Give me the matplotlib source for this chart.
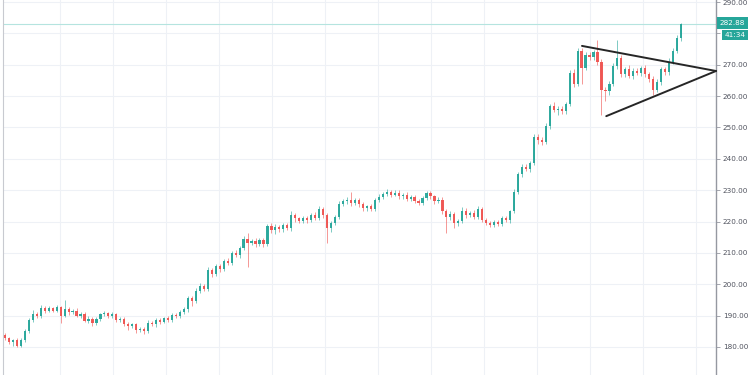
import numpy as np
import matplotlib.pyplot as plt

# close prices, one per candle (open = previous close)
first_open = 183.8
closes = [
    182.8, 181.6, 182.1, 180.4, 182.3, 185.0, 188.5,
    190.5, 189.8, 192.5, 191.6, 192.3, 191.6, 192.6, 190.0,
    192.2, 191.0, 191.6, 190.0, 190.6, 188.4, 189.0, 187.6, 188.8, 190.4,
    190.8, 189.8, 190.4, 188.6, 189.0, 187.4, 186.8, 187.2, 185.4, 185.8,
    185.2, 187.8, 187.2, 188.6, 188.0, 189.2, 188.6, 190.2, 189.8, 191.2,
    192.0, 195.5, 194.6, 198.0, 199.5, 198.6, 204.5, 203.2, 205.8, 204.8,
    207.5, 206.8, 210.0, 209.2, 211.5, 214.5, 213.0, 213.8, 212.8, 214.0,
    212.8, 218.5, 217.2, 218.4, 217.5, 218.8, 217.8, 222.0, 221.0, 220.2,
    221.2, 220.4, 222.0, 221.2, 224.0, 222.0, 218.0, 219.5, 221.5, 225.5,
    226.5, 227.0, 225.8, 226.8, 225.5, 224.2, 224.8, 224.0, 226.8, 227.8,
    228.8, 229.5, 228.6, 229.2, 228.0, 228.6, 227.2, 227.8, 226.5, 226.0,
    227.5, 229.0, 228.0, 226.5, 227.0, 223.5, 221.5, 222.3, 219.5, 220.2,
    223.5, 222.0, 222.8, 221.5, 224.0, 220.5, 219.5, 219.0, 219.8, 219.2,
    221.0, 220.4, 223.2, 229.5, 235.0, 237.5, 236.6, 238.6, 247.0, 246.0,
    245.5, 250.5, 256.8, 255.5, 256.0, 255.2, 257.5, 267.5, 264.0, 274.5,
    269.0, 273.0, 272.5, 274.0, 271.0, 262.0, 261.5, 264.0, 269.5, 272.0,
    267.0, 268.5, 266.5, 268.0, 267.5, 268.8, 267.0, 265.5, 262.0, 264.5,
    268.5, 267.6, 271.0, 274.5, 278.5, 282.88,
]
# wick lengths above / below the candle body
wick_up = [
    0.5, 0.4, 0.3, 0.6, 0.5, 0.8, 0.6,
    1.2, 0.6, 0.8, 0.5, 0.7, 0.4, 0.9, 0.5,
    2.8, 0.6, 0.5, 0.7, 0.4, 0.5, 0.8, 0.4, 0.6, 0.5,
    0.6, 0.5, 0.7, 0.5, 0.6, 0.4, 0.5, 0.6, 0.5, 0.7,
    0.6, 0.8, 0.5, 0.6, 0.7, 0.5, 0.6, 0.5, 0.7, 0.6,
    0.8, 0.6, 0.9, 0.7, 0.8, 0.6, 1.0, 0.7, 0.8, 0.6,
    0.6, 0.8, 0.7, 0.9, 0.6, 0.8, 2.0, 0.7, 0.8, 0.6,
    0.6, 0.8, 1.0, 0.7, 0.6, 0.8, 0.7, 1.2, 0.8, 0.6,
    0.7, 0.6, 0.8, 0.9, 0.8, 0.7, 0.6, 0.8, 0.7, 0.9,
    0.8, 0.7, 2.4, 0.6, 0.8, 0.7, 0.6, 0.8, 0.7, 0.9,
    0.7, 0.8, 0.6, 0.7, 0.8, 0.6, 0.7, 0.6, 0.8, 0.7,
    0.6, 0.8, 0.7, 0.6, 0.8, 0.7, 0.6, 0.9, 0.7, 0.6,
    1.0, 0.8, 0.7, 0.9, 1.0, 0.6, 0.7, 0.6, 0.8, 0.7,
    0.7, 0.8, 0.6, 0.8, 0.9, 0.8, 1.0, 0.7, 0.8, 0.9,
    0.8, 0.9, 0.7, 1.2, 0.8, 0.9, 0.7, 0.8, 1.0, 0.8,
    0.8, 0.9, 1.0, 0.8, 4.0, 0.8, 1.0, 0.8, 0.9, 6.0,
    1.2, 0.8, 1.5, 0.9, 1.0, 0.8, 1.0, 0.8, 0.9, 0.8,
    0.8, 0.9, 1.0, 0.8, 0.9, 0.5,
]
wick_dn = [
    0.6, 0.5, 1.2, 0.5, 0.4, 0.6, 0.5,
    0.5, 0.6, 0.5, 0.8, 0.5, 0.6, 0.5, 2.5,
    0.6, 0.8, 0.5, 0.6, 0.7, 0.5, 0.6, 0.8, 0.5, 0.6,
    0.5, 0.6, 0.7, 0.5, 0.6, 0.8, 1.4, 0.6, 0.8, 0.5,
    1.0, 0.6, 0.5, 0.8, 0.6, 0.5, 0.7, 0.6, 0.5, 0.6,
    0.6, 0.8, 1.5, 0.6, 0.7, 0.8, 0.6, 0.9, 0.7, 0.8,
    0.7, 0.6, 0.8, 0.6, 0.9, 0.7, 7.5, 0.6, 0.8, 0.7,
    0.8, 0.6, 0.9, 1.2, 0.7, 0.8, 0.6, 0.8, 1.0, 0.7,
    0.6, 0.8, 0.7, 0.6, 0.8, 1.0, 5.0, 1.2, 0.6, 0.7,
    0.6, 0.8, 0.7, 0.6, 0.9, 0.8, 1.0, 0.6, 0.7, 0.6,
    0.6, 0.7, 0.8, 0.6, 0.7, 0.9, 0.6, 0.8, 0.7, 0.8,
    0.7, 0.6, 0.8, 0.9, 0.7, 1.0, 5.2, 1.0, 1.5, 0.8,
    0.7, 0.8, 0.6, 0.7, 0.6, 0.8, 0.7, 0.9, 0.6, 0.7,
    0.6, 0.7, 0.8, 0.6, 0.7, 0.8, 0.6, 0.9, 0.7, 1.2,
    1.0, 0.8, 0.9, 0.7, 1.5, 0.8, 1.0, 0.7, 1.2, 0.8,
    5.0, 0.8, 1.0, 0.9, 1.2, 8.0, 3.0, 1.0, 0.8, 0.9,
    1.0, 0.9, 0.8, 1.2, 0.9, 1.0, 0.8, 1.0, 1.5, 0.8,
    0.9, 0.8, 1.0, 0.9, 0.8, 1.0,
]

# triangle trend lines (candle index, price)
upper_line_x = [145.1, 178.8]
upper_line_y = [276.0, 268.0]
lower_line_x = [151.2, 178.8]
lower_line_y = [253.6, 268.0]

yticks = [180, 190, 200, 210, 220, 230, 240, 250, 260, 270, 280, 290]
last_price_label = "282.88"
countdown_label = "41:34"

GREEN = '#26a69a'
RED = '#ef5350'

closes = np.array(closes)
opens = np.concatenate([[first_open], closes[:-1]])
highs = np.maximum(opens, closes) + np.array(wick_up)
lows = np.minimum(opens, closes) - np.array(wick_dn)
idx = np.arange(len(closes))
up = closes >= opens
colors = np.where(up, GREEN, RED)

fig = plt.figure(figsize=(7.5, 3.75), dpi=100)
ax = fig.add_axes([3 / 750, 0, 713 / 750, 1])

# grid
for y in yticks:
    ax.axhline(y, color='#eef1f6', lw=0.8, zorder=0)
for gx in np.arange(13.8, 178, 13.33):
    ax.axvline(gx, color='#eef1f6', lw=0.8, zorder=0)

# last price line
ax.axhline(closes[-1], color='#b5e4df', lw=0.8, zorder=1)

# candles
ax.vlines(idx, lows, highs, colors=colors, lw=0.7, alpha=0.6, zorder=2)
body_h = np.maximum(np.abs(closes - opens), 0.25)
ax.bar(idx, body_h, bottom=np.minimum(opens, closes), width=0.55,
       color=colors, linewidth=0, alpha=0.95, zorder=3)

# trend lines
ax.plot(upper_line_x, upper_line_y, color='#262626', lw=1.4, zorder=4,
        solid_capstyle='round', clip_on=False)
ax.plot(lower_line_x, lower_line_y, color='#262626', lw=1.4, zorder=4,
        solid_capstyle='round', clip_on=False)

ax.set_xlim(-0.5, 178.8)
ax.set_ylim(171.06, 290.64)

ax.yaxis.tick_right()
ax.set_yticks(yticks)
ax.set_yticklabels(['' if t == 280 else f'{t:.2f}' for t in yticks])
ax.tick_params(axis='y', length=3, width=0.6, color='#9598a1', pad=2,
               labelsize=5.2, labelcolor='#50535e')
ax.set_xticks([])

for side in ['top', 'bottom']:
    ax.spines[side].set_visible(False)
ax.spines['right'].set_color('#9598a1')
ax.spines['right'].set_linewidth(1.0)
ax.spines['left'].set_color('#c8cad0')
ax.spines['left'].set_linewidth(0.8)

# price labels on the axis
ax.annotate(last_price_label, xy=(1, closes[-1]), xycoords=('axes fraction', 'data'),
            xytext=(2.5, 1), textcoords='offset points', ha='left', va='center',
            fontsize=5.2, color='white', annotation_clip=False,
            bbox=dict(boxstyle='square,pad=0.4', fc=GREEN, ec='none'))
ax.annotate(countdown_label, xy=(1, closes[-1]), xycoords=('axes fraction', 'data'),
            xytext=(6, -7.5), textcoords='offset points', ha='left', va='center',
            fontsize=5.2, color='white', annotation_clip=False,
            bbox=dict(boxstyle='square,pad=0.3', fc=GREEN, ec='none'))

fig.savefig('out.png', dpi=100, facecolor='white')
